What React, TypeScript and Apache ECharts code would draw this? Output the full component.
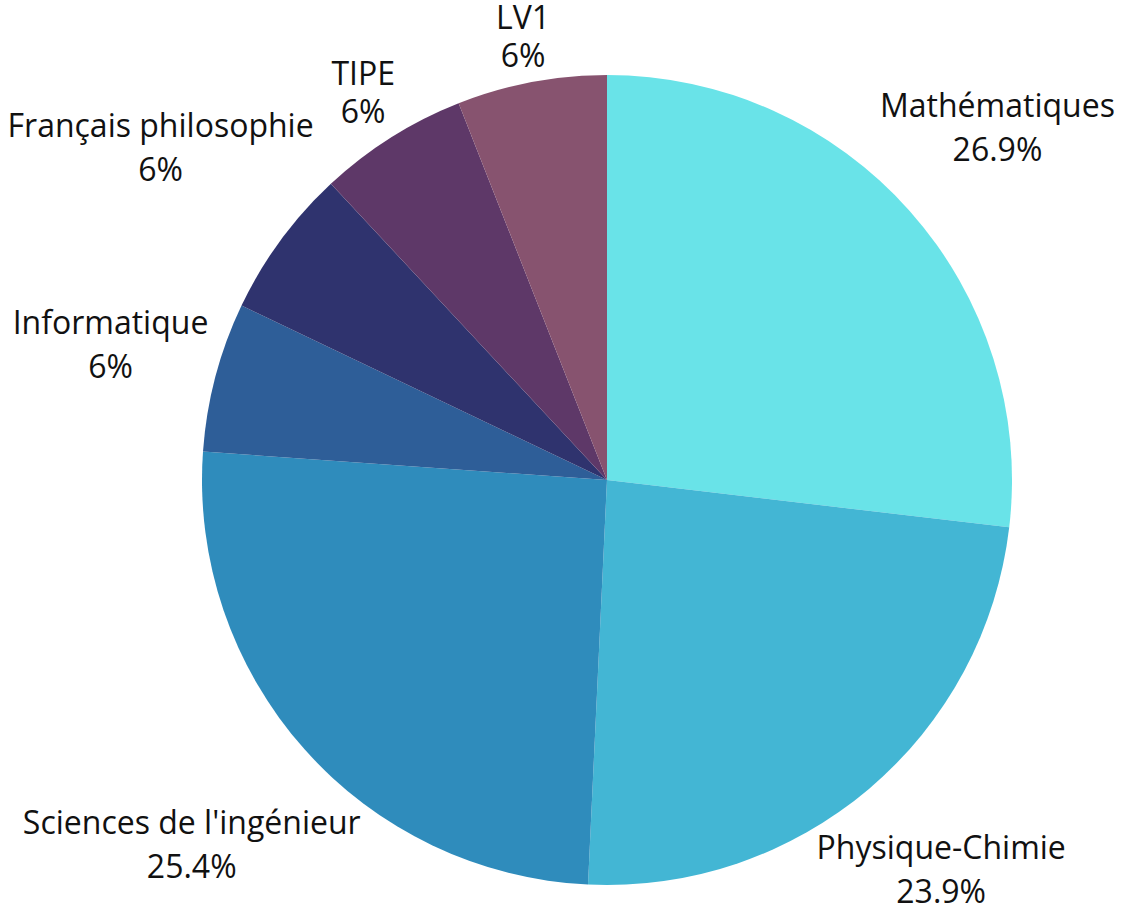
import React, { useEffect, useRef } from "react";
import * as echarts from "echarts";

const categories = [
  "Mathématiques",
  "Physique-Chimie",
  "Sciences de l'ingénieur",
  "Informatique",
  "Français philosophie",
  "TIPE",
  "LV1",
];
const values = [18, 16, 17, 4, 4, 4, 4];
const colors = ["#69E3E8", "#43B6D4", "#2F8CBC", "#2E5E98", "#2F336E", "#5E3868", "#87536F"];

const CX = 607;
const CY = 480;
const R = 405;
const GAP = 3;

export default function App() {
  const ref = useRef<HTMLDivElement>(null);
  useEffect(() => {
    if (!ref.current) return;
    const chart = echarts.init(ref.current, null, { renderer: "svg" });
    const total = values.reduce((a, b) => a + b, 0);
    const mids: number[] = [];
    let acc = 0;
    values.forEach((v) => {
      mids.push(((acc + v / 2) / total) * Math.PI * 2);
      acc += v;
    });
    const nearTop = (i: number) => -Math.cos(mids[i]) < -0.8;
    const pct = (v: number) => {
      const p = Math.round((v / total) * 1000) / 10;
      return String(p) + "%";
    };
    chart.setOption({
      animation: false,
      series: [
        {
          type: "pie",
          center: [CX, CY],
          radius: [0, R],
          startAngle: 90,
          clockwise: true,
          avoidLabelOverlap: false,
          data: categories.map((c, i) => ({
            name: c,
            value: values[i],
            itemStyle: { color: colors[i] },
            label: nearTop(i) ? { lineHeight: 38 } : undefined,
          })),
          itemStyle: { borderWidth: 0 },
          label: {
            show: true,
            position: "outside",
            formatter: (p: any) => p.name + "\n" + pct(p.value),
            fontFamily: "Open Sans",
            fontSize: 32,
            lineHeight: 44,
            color: "#111",
            align: "center",
          },
          labelLine: { show: false },
          emphasis: { disabled: true },
          labelLayout: (params: any) => {
            const i = params.dataIndex;
            const a = mids[i];
            const ux = Math.sin(a);
            const uy = -Math.cos(a);
            const w = params.labelRect.width / 2;
            const h = params.labelRect.height / 2;
            const target = R + GAP;
            let lo = 0;
            let hi = 2000;
            for (let k = 0; k < 60; k++) {
              const d = (lo + hi) / 2;
              const cx = d * ux;
              const cy = d * uy;
              const nx = Math.max(Math.abs(cx) - w, 0);
              const ny = Math.max(Math.abs(cy) - h, 0);
              const dist = Math.sqrt(nx * nx + ny * ny);
              if (dist < target) lo = d;
              else hi = d;
            }
            const shift = nearTop(i) ? -2 : -6;
            return {
              x: CX + hi * ux,
              y: CY + hi * uy + shift,
              align: "center",
              verticalAlign: "middle",
            };
          },
        },
      ],
    });
    return () => chart.dispose();
  }, []);
  return (
    <div
      ref={ref}
      style={{ position: "fixed", left: 0, top: 0, width: 1125, height: 920, background: "#fff" }}
    />
  );
}
